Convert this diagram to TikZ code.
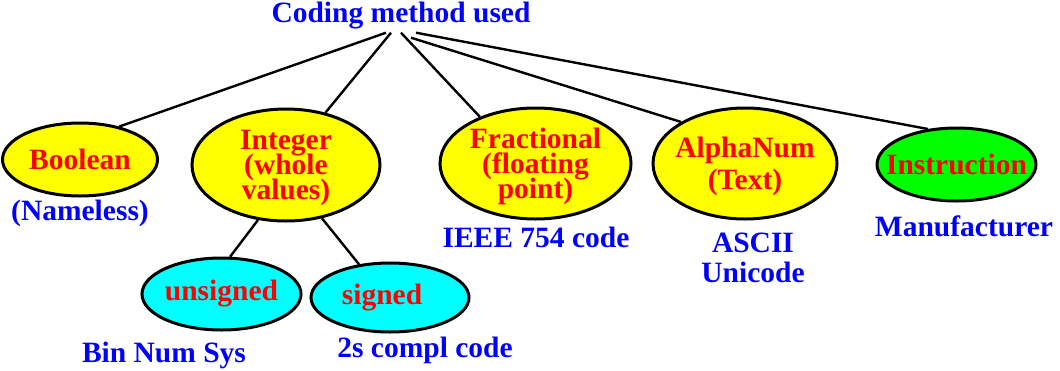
\documentclass[tikz,border=0pt]{standalone}
\usepackage{fontspec}
\setmainfont{Liberation Serif}
\usetikzlibrary{shapes.geometric}
\definecolor{cmBlue}{HTML}{0000FF}
\definecolor{cmRed}{HTML}{FF0000}
\definecolor{cmYellow}{HTML}{FFFF00}
\definecolor{cmCyan}{HTML}{00FFFF}
\definecolor{cmGreen}{HTML}{00FF00}
\newcommand{\cmfont}{\fontsize{29.5}{25}\selectfont\bfseries\lineskiplimit=-100pt}
\tikzset{
  oval/.style={ellipse, draw=black, line width=3pt, inner xsep=-16pt, inner ysep=0pt,
              align=center, text=cmRed, font=\cmfont},
  yoval/.style={oval, fill=cmYellow, text depth=0pt},
  tall/.style={text depth=-6pt},
  coval/.style={oval, fill=cmCyan},
  goval/.style={oval, fill=cmGreen},
  lbl/.style={text=cmBlue, font=\cmfont, inner sep=0pt, align=center, anchor=base},
  link/.style={draw=black, line width=2.4pt},
}

\begin{document}
\begin{tikzpicture}[x=1pt,y=-1pt]
  \useasboundingbox (0,0) rectangle (1060,370);
  % root
  \node[lbl] (title) at (401,22) {Coding method used};

  % kinds of data
  \node[yoval,minimum width=155,minimum height=73] (bool) at (80,159.5) {Boolean};
  \node[yoval,tall,minimum width=188,minimum height=112] (int) at (286,165) {Integer\\(whole\\values)};
  \node[yoval,tall,minimum width=191,minimum height=111] (frac) at (535.5,163.5) {Fractional\\(floating\\point)};
  \node[yoval,text depth=-4pt,minimum width=184,minimum height=111] (alpha) at (745,163.5) {AlphaNum\\[7pt](Text)};
  \node[goval,minimum width=159,minimum height=73] (inst) at (956.5,164.5) {Instruction};

  % integer kinds
  \node[coval,minimum width=159,minimum height=72] (uns) at (221.5,294) {unsigned};
  \node[coval,minimum width=158,minimum height=69] (sgn) at (390,297.5) {signed\hspace*{16pt}};

  % codes
  \node[lbl] (bool-c) at (80,220) {(Nameless)};
  \node[lbl] (frac-c) at (536,247) {IEEE 754 code};
  \node[lbl] (alpha-c) at (753,282) {ASCII\\[5pt]Unicode};
  \node[lbl] (inst-c) at (964,236) {Manufacturer};
  \node[lbl] (uns-c) at (164,362) {Bin Num Sys};
  \node[lbl] (sgn-c) at (425,357) {2s compl code};

  % links
  \draw[link] ([xshift=-15pt,yshift=-4pt]title.south) -- (bool.40);
  \draw[link] ([xshift=-10pt,yshift=-4pt]title.south) -- (int.53);
  \draw[link] ([yshift=-4pt]title.south) -- (frac.140);
  \draw[link] ([xshift=10pt,yshift=-9pt]title.south) -- (alpha.147);
  \draw[link] ([xshift=15pt,yshift=-4pt]title.south) -- (inst.129);
  \draw[link] (int.243) -- (uns.77);
  \draw[link] (int.304) -- (sgn.133);
\end{tikzpicture}
\end{document}
